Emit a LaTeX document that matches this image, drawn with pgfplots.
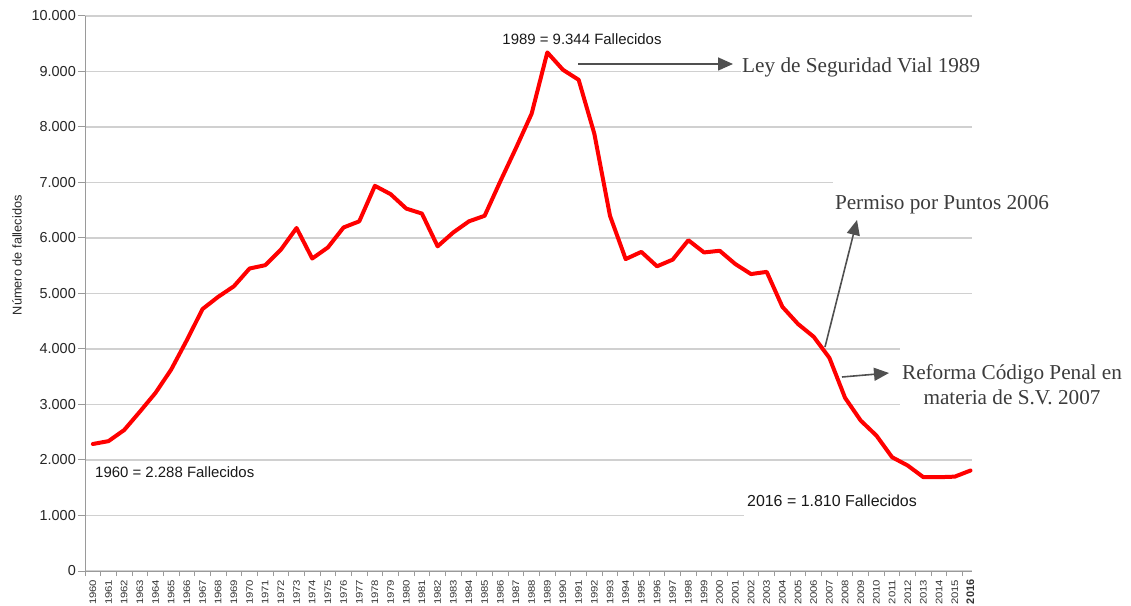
\documentclass[border=0pt]{standalone}
\usepackage{pgfplots}
\pgfplotsset{compat=1.18}
\usepackage{graphicx}
\usepackage{fontspec}
\setmainfont{Liberation Sans}
\newfontfamily\seriffont{Liberation Serif}
\usetikzlibrary{arrows.meta}
\definecolor{gridgray}{HTML}{D0D0D0}
\definecolor{axgray}{HTML}{9A9A9A}
\definecolor{anngray}{HTML}{505050}
\definecolor{txtgray}{HTML}{3C3C3C}
\newcommand\xl[1]{\scalebox{1.2}[1]{#1}}
\pgfplotstableread{
x y
0 2288
1 2340
2 2540
3 2870
4 3210
5 3630
6 4160
7 4720
8 4940
9 5130
10 5450
11 5510
12 5790
13 6180
14 5630
15 5830
16 6190
17 6300
18 6940
19 6790
20 6530
21 6440
22 5850
23 6100
24 6300
25 6400
26 7020
27 7620
28 8240
29 9344
30 9030
31 8850
32 7880
33 6400
34 5620
35 5750
36 5490
37 5610
38 5960
39 5740
40 5770
41 5530
42 5350
43 5390
44 4760
45 4450
46 4220
47 3840
48 3120
49 2710
50 2440
51 2050
52 1900
53 1690
54 1690
55 1700
56 1810
}\datatable
\begin{document}
\begin{tikzpicture}
\begin{axis}[
  at={(85bp,35bp)}, anchor=south west,
  scale only axis, width=887bp, height=555bp,
  xmin=-0.5, xmax=56.1, ymin=0, ymax=10000,
  axis x line*=bottom, axis y line*=left,
  axis line style={draw=axgray, line width=1bp, -},
  ymajorgrids, major grid style={draw=gridgray, line width=1.2bp},
  ytick={0,1000,...,10000},
  scaled y ticks=false,
  tick align=outside,
  major tick length=7bp,
  minor tick length=5bp,
  ytick style={draw=axgray, line width=1bp},
  major x tick style={draw=none},
  minor x tick style={draw=axgray, line width=1bp},
  xtick={0,...,56},
  minor xtick={-0.5,0.5,...,55.5},
  xticklabels={\xl{1960},\xl{1961},\xl{1962},\xl{1963},\xl{1964},\xl{1965},\xl{1966},\xl{1967},\xl{1968},\xl{1969},\xl{1970},\xl{1971},\xl{1972},\xl{1973},\xl{1974},\xl{1975},\xl{1976},\xl{1977},\xl{1978},\xl{1979},\xl{1980},\xl{1981},\xl{1982},\xl{1983},\xl{1984},\xl{1985},\xl{1986},\xl{1987},\xl{1988},\xl{1989},\xl{1990},\xl{1991},\xl{1992},\xl{1993},\xl{1994},\xl{1995},\xl{1996},\xl{1997},\xl{1998},\xl{1999},\xl{2000},\xl{2001},\xl{2002},\xl{2003},\xl{2004},\xl{2005},\xl{2006},\xl{2007},\xl{2008},\xl{2009},\xl{2010},\xl{2011},\xl{2012},\xl{2013},\xl{2014},\xl{2015},{\fontsize{11}{12}\selectfont\textbf{2016}}},
  xticklabel style={rotate=90, anchor=east, font=\fontsize{9.5}{10}\selectfont, text=black!80, inner sep=1.5bp},
  yticklabel style={font=\fontsize{14.5}{16}\selectfont, text=black!85, /pgf/number format/1000 sep={.}, /pgf/number format/assume math mode=true, inner sep=2bp},
  ylabel={Número de fallecidos},
  ylabel style={at={(axis description cs:-0.0767,0.569)}, anchor=center, font=\fontsize{12.8}{14}\selectfont, text=black!85},
  clip=false,
]
\addplot[red, line width=4bp, line join=round, line cap=round] table[x=x, y=y] {\datatable};
\end{axis}
% white boxes interrupting grid lines (text boxes)
\fill[white] (741bp,521bp) rectangle (980bp,554bp);
\fill[white] (833bp,385bp) rectangle (980bp,430bp);
\fill[white] (900bp,195bp) rectangle (980bp,264bp);
\fill[white] (744bp,80bp) rectangle (980bp,118bp);
% annotations
\node[font=\fontsize{15}{17}\selectfont, text=black!90, inner sep=0] at (582bp,567bp) {1989 = 9.344 Fallecidos};
\node[font=\fontsize{15}{17}\selectfont, text=black!90, inner sep=0, anchor=west] at (95bp,134bp) {1960 = 2.288 Fallecidos};
\node[font=\fontsize{16}{18}\selectfont, text=black!90, inner sep=0] at (832bp,105bp) {2016 = 1.810 Fallecidos};
\node[font=\seriffont\fontsize{21.3}{25}\selectfont, text=txtgray, inner sep=0, anchor=west] at (742bp,539bp) {Ley de Seguridad Vial 1989};
\node[font=\seriffont\fontsize{21.3}{25}\selectfont, text=txtgray, inner sep=0] at (942bp,401bp) {Permiso por Puntos 2006};
\node[font=\seriffont\fontsize{21.3}{25}\selectfont, text=txtgray, inner sep=0, align=center] at (1012bp,221bp) {Reforma Código Penal en\\materia de S.V. 2007};
\draw[anngray, line width=1.6bp, -{Triangle[length=15bp, width=13bp]}] (578bp,542bp) -- (733bp,542bp);
\draw[anngray, line width=1.6bp, -{Triangle[length=15bp, width=13bp]}] (825bp,259bp) -- (857bp,386bp);
\draw[anngray, line width=1.6bp, -{Triangle[length=15bp, width=13bp]}] (842bp,229bp) -- (889bp,233bp);
\pgfresetboundingbox
\path (0,0) rectangle (1131bp,606bp);
\end{tikzpicture}
\end{document}
